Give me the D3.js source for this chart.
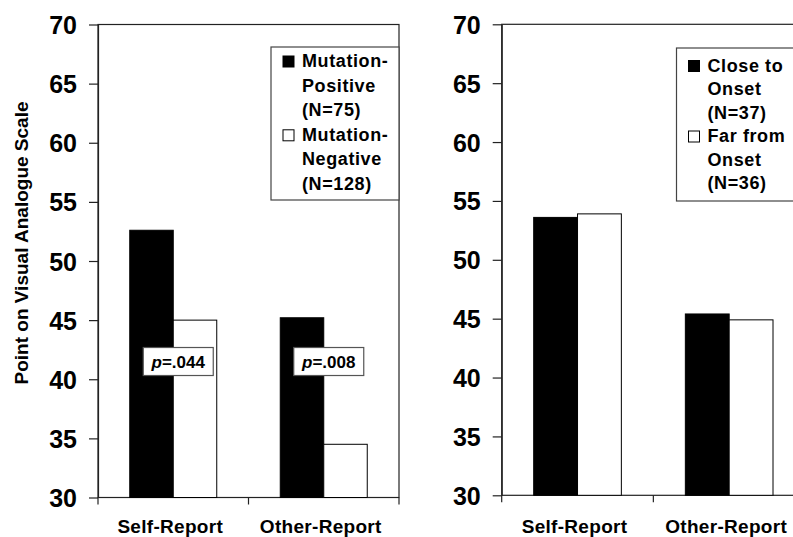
<!DOCTYPE html>
<html>
<head>
<meta charset="utf-8">
<script src="https://cdn.jsdelivr.net/npm/d3@7"></script>
<style>
  html, body { margin: 0; padding: 0; background: #fff; }
  svg { display: block; font-family: "Liberation Sans", Arial, sans-serif; }
</style>
</head>
<body>
<div id="chart"></div>
<script>
// categories and values
const categories = ['Self-Report', 'Other-Report'];
const mutPositive = [52.6, 45.2];
const mutNegative = [45.0, 34.5];
const closeOnset  = [53.6, 45.4];
const farOnset    = [53.9, 44.9];
const yTicks = [30, 35, 40, 45, 50, 55, 60, 65, 70];
const pLabels = ['.044', '.008'];
const pLabelY = 41.5;
const legendLeft  = [['Mutation-', 'Positive', '(N=75)'], ['Mutation-', 'Negative', '(N=128)']];
const legendRight = [['Close to', 'Onset', '(N=37)'], ['Far from', 'Onset', '(N=36)']];
const fills = ['#000', '#fff'];

const W = 793, H = 537;
const svg = d3.select('#chart').append('svg')
  .attr('width', W).attr('height', H);

function drawPanel(o) {
  const g = svg.append('g');

  const x = d3.scaleBand().domain(categories).range([o.x0, o.x1]);
  const y = d3.scaleLinear().domain([30, 70]).range([o.yb, o.yt]);
  const inner = d3.scaleBand().domain([0, 1])
    .range([0, x.bandwidth()]).paddingInner(0).paddingOuter(0.73);

  // frame
  g.append('rect')
    .attr('x', o.x0).attr('y', o.yt)
    .attr('width', o.x1 - o.x0).attr('height', o.yb - o.yt)
    .attr('fill', 'none').attr('stroke', '#222').attr('stroke-width', 1.2);

  // y axis
  const ya = g.append('g')
    .attr('transform', `translate(${o.x0},0)`)
    .call(d3.axisLeft(y).tickValues(yTicks).tickSize(9).tickSizeOuter(0).tickPadding(12));
  ya.select('.domain').attr('stroke', '#222').attr('stroke-width', 1.2);
  ya.selectAll('.tick line').attr('stroke', '#222').attr('stroke-width', 1.2);
  ya.selectAll('.tick text')
    .attr('font-size', 25).attr('font-weight', 700)
    .attr('font-family', '"Liberation Sans", Arial, sans-serif')
    .attr('fill', '#000').attr('dy', '0.36em');

  // x axis ticks at band edges
  const edges = categories.map(c => x(c)).concat([o.x1]);
  g.selectAll('line.xtick').data(edges).join('line')
    .attr('class', 'xtick')
    .attr('x1', d => d).attr('x2', d => d)
    .attr('y1', o.yb).attr('y2', o.yb + 7)
    .attr('stroke', '#222').attr('stroke-width', 1.2);

  // bars
  o.series.forEach((vals, si) => {
    g.selectAll(`rect.bar${si}`).data(vals).join('rect')
      .attr('class', `bar${si}`)
      .attr('x', (d, i) => x(categories[i]) + inner(si))
      .attr('y', d => y(d))
      .attr('width', inner.bandwidth())
      .attr('height', d => y(30) - y(d))
      .attr('fill', fills[si])
      .attr('stroke', '#000').attr('stroke-width', 1);
  });

  // category labels (kept just inside the bottom edge)
  g.selectAll('text.cat').data(categories).join('text')
    .attr('class', 'cat')
    .attr('x', d => x(d) + x.bandwidth() / 2 - 3)
    .attr('y', H - 4.5)
    .attr('text-anchor', 'middle')
    .attr('font-size', 19).attr('font-weight', 700)
    .attr('letter-spacing', 0.3)
    .text(d => d);

  // p-value boxes
  if (o.pLabels) {
    const pb = g.selectAll('g.pbox').data(o.pLabels).join('g')
      .attr('class', 'pbox')
      .attr('transform', (d, i) =>
        `translate(${x(categories[i]) + x.bandwidth() / 2 + 5},${y(pLabelY)})`);
    pb.append('rect')
      .attr('x', -35).attr('y', -14).attr('width', 70).attr('height', 28)
      .attr('fill', '#fff').attr('stroke', '#555').attr('stroke-width', 1.2);
    const t = pb.append('text')
      .attr('text-anchor', 'middle').attr('dy', '0.36em')
      .attr('font-size', 17).attr('font-weight', 700);
    t.append('tspan').attr('font-style', 'italic').text('p');
    t.append('tspan').text(d => '=' + d);
  }

  // legend
  const lg = g.append('g').attr('transform', `translate(${o.lx},${o.ly})`);
  lg.append('rect')
    .attr('x', 0).attr('y', 0).attr('width', 128).attr('height', 153)
    .attr('fill', '#fff').attr('stroke', '#444').attr('stroke-width', 1.2);
  o.legend.forEach((lines, si) => {
    const base = o.lb + si * 3 * o.lh;
    lg.append('rect')
      .attr('x', 12).attr('y', base - 11)
      .attr('width', 11).attr('height', 11)
      .attr('fill', fills[si]).attr('stroke', '#000').attr('stroke-width', 1);
    lines.forEach((s, li) => {
      lg.append('text')
        .attr('x', 31).attr('y', base + li * o.lh)
        .attr('font-size', 18).attr('font-weight', 700)
        .attr('letter-spacing', 0.6)
        .text(s);
    });
  });
}

drawPanel({
  x0: 98, x1: 399, yt: 24.5, yb: 497.5,
  series: [mutPositive, mutNegative],
  pLabels: pLabels,
  legend: legendLeft, lx: 271, ly: 47, lb: 20, lh: 24.6
});

drawPanel({
  x0: 501.7, x1: 805, yt: 24.3, yb: 495.3,
  series: [closeOnset, farOnset],
  pLabels: null,
  legend: legendRight, lx: 676.5, ly: 48, lb: 23.5, lh: 23.5
});

// y axis title
svg.append('text')
  .attr('transform', 'translate(27.5,243) rotate(-90)')
  .attr('text-anchor', 'middle')
  .attr('font-size', 19).attr('font-weight', 700)
  .text('Point on Visual Analogue Scale');
</script>
</body>
</html>
